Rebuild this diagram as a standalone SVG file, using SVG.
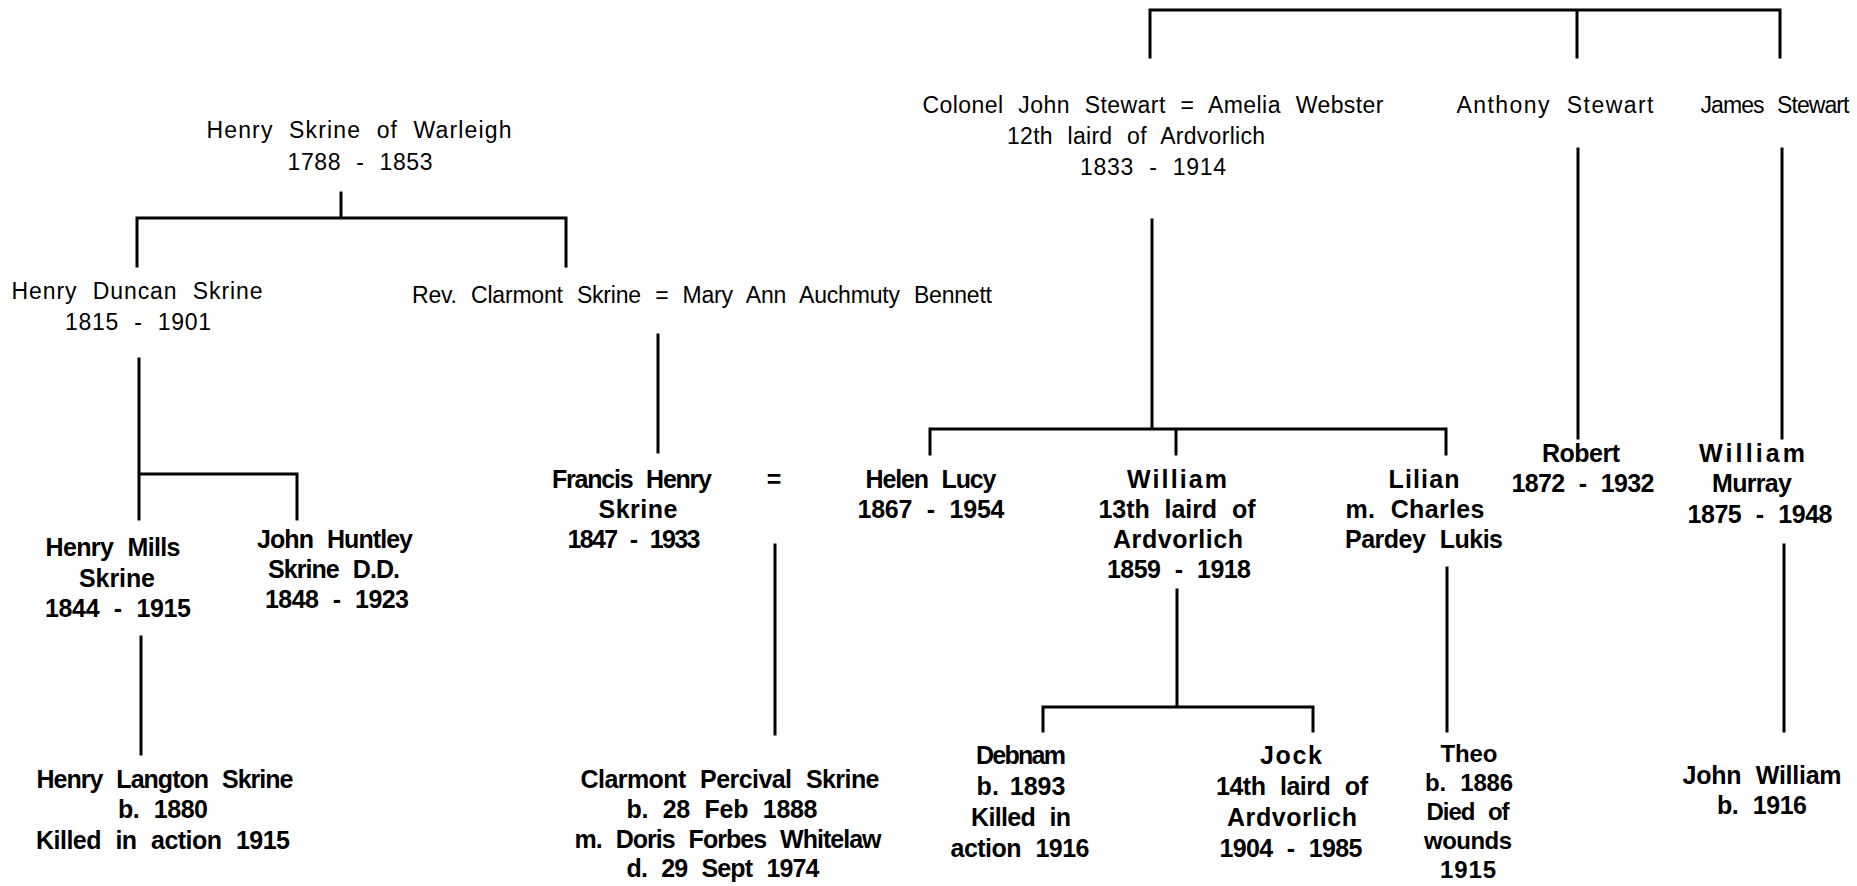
<svg xmlns="http://www.w3.org/2000/svg" width="1857" height="886" viewBox="0 0 1857 886">
<style>
text{fill:#000;text-anchor:middle;}
.u{font-family:"Liberation Sans",Arial,sans-serif;font-size:23px;word-spacing:8px;}
.b{font-family:"Liberation Sans",Arial,sans-serif;font-size:25px;font-weight:bold;word-spacing:8px;}
.t{font-size:24px;}
#connectors path{fill:none;stroke:#000;stroke-width:3;stroke-linecap:square;}
</style>
<rect width="1857" height="886" fill="#fff"/>
<g id="connectors">
<path d="M341 193V218M137 266V218H566V266"/>
<path d="M139 359V519M139 474H297V519"/>
<path d="M141 637V754"/>
<path d="M658 335V452"/>
<path d="M775 545V734"/>
<path d="M1150 57V10H1780V57M1577 10V57"/>
<path d="M1578 149V438"/>
<path d="M1782 149V438"/>
<path d="M1784 545V731"/>
<path d="M1152 220V429M930 454V429H1446V454M1176 429V454"/>
<path d="M1177 590V707M1043 731V707H1313V731"/>
<path d="M1447 568V731"/>
</g>
<g id="henry-skrine-warleigh">
<text class="u" x="359" y="138" textLength="305" lengthAdjust="spacing">Henry Skrine of Warleigh</text>
<text class="u" x="360" y="170" textLength="145" lengthAdjust="spacing">1788 - 1853</text>
</g>
<g id="henry-duncan-skrine">
<text class="u" x="137" y="299" textLength="251" lengthAdjust="spacing">Henry Duncan Skrine</text>
<text class="u" x="138" y="330" textLength="146" lengthAdjust="spacing">1815 - 1901</text>
</g>
<g id="rev-clarmont-skrine">
<text class="u" x="702" y="303" textLength="580" lengthAdjust="spacing">Rev. Clarmont Skrine = Mary Ann Auchmuty Bennett</text>
</g>
<g id="henry-mills-skrine">
<text class="b" x="113" y="556" textLength="135" lengthAdjust="spacing">Henry Mills</text>
<text class="b" x="117" y="587" textLength="76" lengthAdjust="spacing">Skrine</text>
<text class="b" x="118" y="617" textLength="146" lengthAdjust="spacing">1844 - 1915</text>
</g>
<g id="john-huntley-skrine">
<text class="b" x="335" y="548" textLength="156" lengthAdjust="spacing">John Huntley</text>
<text class="b" x="334" y="578" textLength="132" lengthAdjust="spacing">Skrine D.D.</text>
<text class="b" x="337" y="608" textLength="144" lengthAdjust="spacing">1848 - 1923</text>
</g>
<g id="henry-langton-skrine">
<text class="b" x="165" y="788" textLength="257" lengthAdjust="spacing">Henry Langton Skrine</text>
<text class="b" x="163" y="818" textLength="90" lengthAdjust="spacing">b. 1880</text>
<text class="b" x="163" y="849" textLength="254" lengthAdjust="spacing">Killed in action 1915</text>
</g>
<g id="francis-henry-skrine">
<text class="b" x="632" y="488" textLength="160" lengthAdjust="spacing">Francis Henry</text>
<text class="b" x="774" y="488">=</text>
<text class="b" x="638" y="518" textLength="79" lengthAdjust="spacing">Skrine</text>
<text class="b" x="634" y="548" textLength="133" lengthAdjust="spacing">1847 - 1933</text>
</g>
<g id="clarmont-percival-skrine">
<text class="b" x="730" y="788" textLength="299" lengthAdjust="spacing">Clarmont Percival Skrine</text>
<text class="b" x="722" y="818" textLength="191" lengthAdjust="spacing">b. 28 Feb 1888</text>
<text class="b" x="728" y="848" textLength="307" lengthAdjust="spacing">m. Doris Forbes Whitelaw</text>
<text class="b" x="723" y="877" textLength="193" lengthAdjust="spacing">d. 29 Sept 1974</text>
</g>
<g id="colonel-john-stewart">
<text class="u" x="1153" y="113" textLength="461" lengthAdjust="spacing">Colonel John Stewart = Amelia Webster</text>
<text class="u" x="1136" y="144" textLength="258" lengthAdjust="spacing">12th laird of Ardvorlich</text>
<text class="u" x="1153" y="175" textLength="146" lengthAdjust="spacing">1833 - 1914</text>
</g>
<g id="anthony-stewart">
<text class="u" x="1555" y="113" textLength="197" lengthAdjust="spacing">Anthony Stewart</text>
</g>
<g id="james-stewart">
<text class="u" x="1775" y="113" textLength="149" lengthAdjust="spacing">James Stewart</text>
</g>
<g id="helen-lucy">
<text class="b" x="931" y="488" textLength="131" lengthAdjust="spacing">Helen Lucy</text>
<text class="b" x="931" y="518" textLength="147" lengthAdjust="spacing">1867 - 1954</text>
</g>
<g id="william-13th">
<text class="b" x="1177" y="488" textLength="100" lengthAdjust="spacing">William</text>
<text class="b" x="1177" y="518" textLength="157" lengthAdjust="spacing">13th laird of</text>
<text class="b" x="1178" y="548" textLength="130" lengthAdjust="spacing">Ardvorlich</text>
<text class="b" x="1179" y="578" textLength="144" lengthAdjust="spacing">1859 - 1918</text>
</g>
<g id="lilian">
<text class="b" x="1424" y="488" textLength="71" lengthAdjust="spacing">Lilian</text>
<text class="b" x="1415" y="518" textLength="139" lengthAdjust="spacing">m. Charles</text>
<text class="b" x="1424" y="548" textLength="158" lengthAdjust="spacing">Pardey Lukis</text>
</g>
<g id="robert">
<text class="b" x="1581" y="462" textLength="78" lengthAdjust="spacing">Robert</text>
<text class="b" x="1583" y="492" textLength="143" lengthAdjust="spacing">1872 - 1932</text>
</g>
<g id="william-murray">
<text class="b" x="1752" y="462" textLength="106" lengthAdjust="spacing">William</text>
<text class="b" x="1752" y="492" textLength="80" lengthAdjust="spacing">Murray</text>
<text class="b" x="1760" y="523" textLength="145" lengthAdjust="spacing">1875 - 1948</text>
</g>
<g id="debnam">
<text class="b" x="1021" y="764" textLength="90" lengthAdjust="spacing">Debnam</text>
<text class="b" x="1021" y="795" style="word-spacing:4px">b. 1893</text>
<text class="b" x="1021" y="826" textLength="100" lengthAdjust="spacing">Killed in</text>
<text class="b" x="1020" y="857" textLength="139" lengthAdjust="spacing">action 1916</text>
</g>
<g id="jock">
<text class="b" x="1291" y="764" textLength="62" lengthAdjust="spacing">Jock</text>
<text class="b" x="1292" y="795" textLength="152" lengthAdjust="spacing">14th laird of</text>
<text class="b" x="1292" y="826" textLength="130" lengthAdjust="spacing">Ardvorlich</text>
<text class="b" x="1291" y="857" textLength="143" lengthAdjust="spacing">1904 - 1985</text>
</g>
<g id="theo">
<text class="b t" x="1469" y="762" textLength="57" lengthAdjust="spacing">Theo</text>
<text class="b t" x="1469" y="791" textLength="88" lengthAdjust="spacing">b. 1886</text>
<text class="b t" x="1468" y="820" textLength="83" lengthAdjust="spacing">Died of</text>
<text class="b t" x="1468" y="849" textLength="88" lengthAdjust="spacing">wounds</text>
<text class="b t" x="1468" y="878" textLength="56" lengthAdjust="spacing">1915</text>
</g>
<g id="john-william">
<text class="b" x="1762" y="784" textLength="159" lengthAdjust="spacing">John William</text>
<text class="b" x="1762" y="814" textLength="90" lengthAdjust="spacing">b. 1916</text>
</g>
</svg>
